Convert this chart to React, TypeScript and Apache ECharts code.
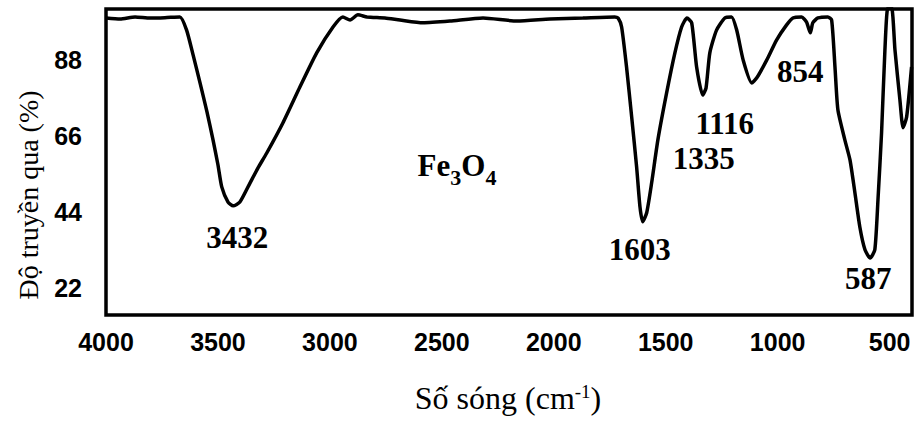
import React, { useEffect, useRef } from "react";
import * as echarts from "echarts";

// FTIR spectrum of Fe3O4: wavenumber (cm^-1) vs transmittance (%)
const wavenumbers = [
  4000, 3937, 3870, 3803, 3737, 3670, 3640, 3611, 3580, 3549, 3522, 3500, 3483, 3455, 3432,
  3402, 3357, 3321, 3282, 3210, 3134, 3059, 2986, 2942, 2910, 2875, 2834, 2754, 2687, 2584,
  2464, 2316, 2164, 2017, 1870, 1727, 1712, 1697, 1675, 1652, 1630, 1615, 1603, 1585, 1563,
  1535, 1496, 1459, 1429, 1405, 1384, 1362, 1335, 1320, 1303, 1273, 1236, 1206, 1183, 1154,
  1116, 1094, 1049, 1005, 960, 932, 893, 871, 854, 843, 820, 776, 759, 744, 731,
  700, 677, 655, 633, 610, 587, 566, 552, 536, 521, 508, 491, 476, 454, 440,
  424, 402,
];
const transmittance = [
  100.3, 100.0, 100.6, 100.3, 100.4, 100.6, 96.8, 89.6, 81.5, 73.1, 65.0, 57.8, 51.4, 47.0, 45.9,
  47.0, 52.5, 56.9, 61.2, 69.9, 80.3, 90.2, 97.7, 100.6, 99.7, 101.2, 100.6, 100.3, 99.7, 98.9,
  99.4, 100.3, 99.4, 100.0, 100.3, 100.6, 100.2, 97.7, 86.1, 71.6, 57.2, 45.6, 41.3, 43.9, 52.5,
  65.0, 78.6, 90.2, 97.7, 100.3, 98.9, 86.1, 78.0, 80.0, 90.2, 96.8, 100.3, 100.6, 96.8, 88.1,
  81.5, 82.9, 88.1, 93.9, 98.3, 100.3, 100.6, 99.1, 96.0, 98.9, 100.3, 100.6, 99.7, 86.1, 73.7,
  65.0, 59.2, 49.7, 39.8, 33.2, 30.8, 33.2, 47.6, 67.0, 91.0, 103.2, 103.2, 91.0, 76.6, 68.5,
  71.6, 86.1,
];

// Labelled absorption bands
const peakWavenumbers = [3432, 1603, 1335, 1116, 854, 587];
const peakTransmittance = [45.9, 41.3, 78.0, 81.5, 96.0, 30.8];
// Label placement relative to each band minimum (px)
const peakLabelOffsets = [
  [4, 32],
  [-3, 28],
  [1, 64],
  [-27, 41],
  [-10, 39],
  [-2, 20],
];

const xTickValues = [4000, 3500, 3000, 2500, 2000, 1500, 1000, 500];
const yTickValues = [22, 44, 66, 88];

const X_MIN = 400;
const X_MAX = 4000;
const Y_MIN = 14.3;
const Y_MAX = 102.9;

export default function App() {
  const ref = useRef<HTMLDivElement>(null);

  useEffect(() => {
    if (!ref.current) return;
    const chart = echarts.init(ref.current, undefined, { renderer: "svg" });

    const spectrum = wavenumbers.map((w, i) => [w, transmittance[i]]);
    const peaks = peakWavenumbers.map((w, i) => ({
      value: [w, peakTransmittance[i]],
      label: { offset: peakLabelOffsets[i] },
    }));

    const tickFont = {
      color: "#000",
      fontFamily: "Liberation Sans",
      fontWeight: "bold",
      fontSize: 25,
    };

    chart.setOption({
      animation: false,
      backgroundColor: "#ffffff",
      grid: {
        left: 106,
        right: 6,
        top: 9,
        bottom: 113,
        show: true,
        borderColor: "#000",
        borderWidth: 3.5,
        backgroundColor: "transparent",
      },
      xAxis: {
        type: "value",
        min: X_MIN,
        max: X_MAX,
        inverse: true,
        axisLine: { show: false },
        axisTick: { show: false },
        splitLine: { show: false },
        axisLabel: {
          ...tickFont,
          customValues: xTickValues,
          margin: 14,
          formatter: (v: number) => String(v),
        },
      },
      yAxis: {
        type: "value",
        min: Y_MIN,
        max: Y_MAX,
        axisLine: { show: false },
        axisTick: { show: false },
        splitLine: { show: false },
        axisLabel: {
          ...tickFont,
          customValues: yTickValues,
          margin: 24,
          formatter: (v: number) => String(v),
        },
      },
      graphic: [
        {
          type: "text",
          x: 28,
          y: 195,
          rotation: Math.PI / 2,
          style: {
            text: "Độ truyền qua (%)",
            fill: "#000",
            font: "28px 'Liberation Serif'",
            align: "center",
            verticalAlign: "middle",
          },
        },
        {
          type: "text",
          x: 508,
          y: 398,
          style: {
            text: "Số sóng (cm{sup|-1})",
            fill: "#000",
            fontFamily: "Liberation Serif",
            fontSize: 32,
            align: "center",
            verticalAlign: "middle",
            rich: {
              sup: {
                fontFamily: "Liberation Serif",
                fontSize: 19,
                fill: "#000",
                verticalAlign: "top",
                padding: [0, 0, 14, 0],
              },
            },
          },
        },
        {
          type: "text",
          x: 457,
          y: 165,
          style: {
            text: "Fe{sub|3}O{sub|4}",
            fill: "#000",
            fontFamily: "Liberation Serif",
            fontWeight: "bold",
            fontSize: 31,
            align: "center",
            verticalAlign: "middle",
            rich: {
              sub: {
                fontFamily: "Liberation Serif",
                fontWeight: "bold",
                fontSize: 22,
                fill: "#000",
                verticalAlign: "bottom",
                padding: [24, 0, 0, 0],
              },
            },
          },
        },
      ],
      series: [
        {
          name: "Fe3O4",
          type: "line",
          data: spectrum,
          showSymbol: false,
          smooth: 0.2,
          clip: true,
          lineStyle: { color: "#000", width: 3.5 },
        },
        {
          name: "Bands",
          type: "scatter",
          data: peaks,
          symbolSize: 0,
          itemStyle: { color: "rgba(0,0,0,0)", opacity: 1 },
          label: {
            show: true,
            position: "inside",
            formatter: (p: any) => String(p.value[0]),
            color: "#000",
            opacity: 1,
            fontFamily: "Liberation Serif",
            fontWeight: "bold",
            fontSize: 31,
          },
        },
      ],
    });

    return () => chart.dispose();
  }, []);

  return (
    <div
      ref={ref}
      style={{ position: "fixed", left: 0, top: 0, width: 918, height: 428, background: "#fff" }}
    />
  );
}
